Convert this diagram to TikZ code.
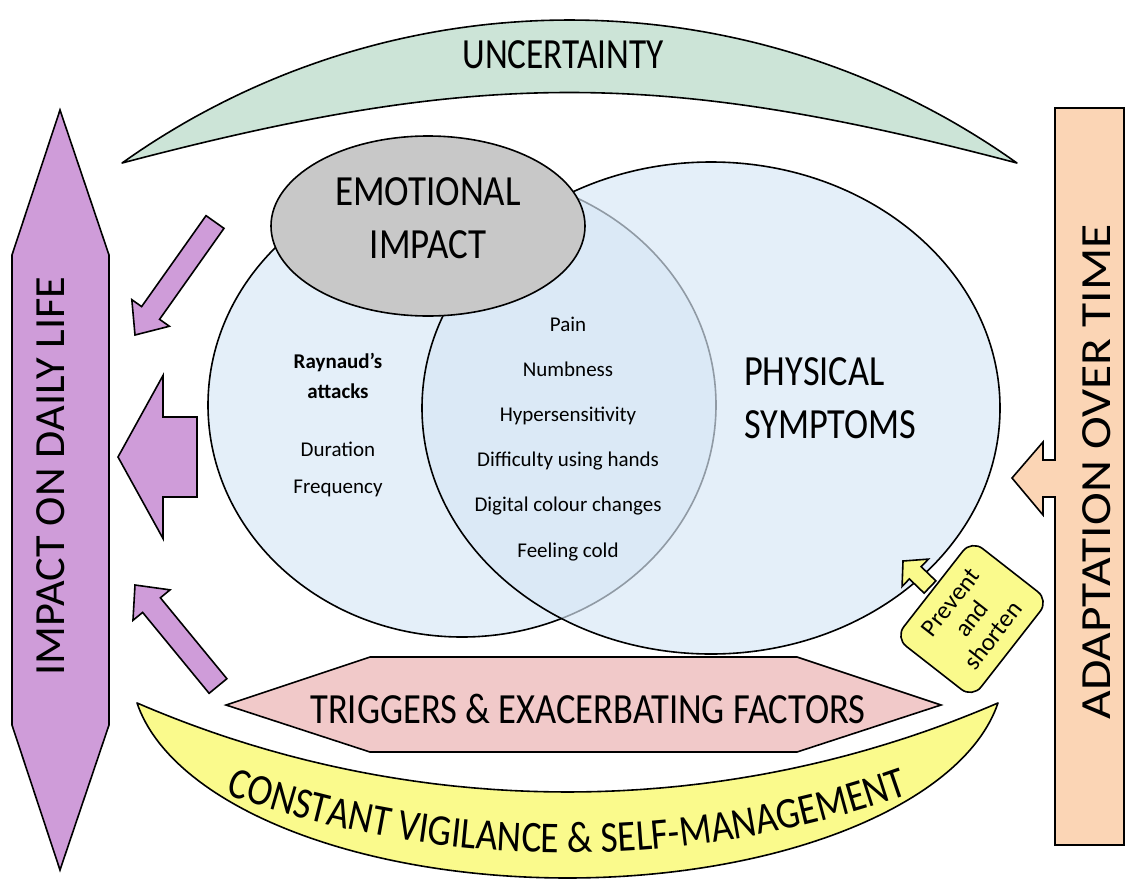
\documentclass[tikz,border=0pt]{standalone}
\usepackage{fontspec}
\setmainfont{Carlito}
\newfontfamily\arcfont[FakeStretch=0.85]{Carlito}
\usetikzlibrary{calc,shapes.geometric,decorations.text}

\definecolor{lilac}{RGB}{207,156,217}
\definecolor{mint}{RGB}{204,228,215}
\definecolor{paleblue}{RGB}{228,239,249}
\definecolor{skyblue}{RGB}{215,231,246}
\definecolor{peach}{RGB}{251,213,181}
\definecolor{rose}{RGB}{241,201,201}
\definecolor{lemon}{RGB}{250,250,140}
\definecolor{stone}{RGB}{200,200,200}

\newcommand\squeeze[2]{\scalebox{#1}[1]{#2}}
% tail, tip, shaft half width, head half width, head length, fill
\newcommand\blockarrow[6]{%
  \coordinate (neck) at ($(#2)!#5!(#1)$);
  \draw[outline,fill=#6] ($(#1)!#3!90:(#2)$) -- ($(neck)!#3!90:(#2)$) -- ($(neck)!#4!90:(#2)$) -- (#2)
    -- ($(neck)!#4!-90:(#2)$) -- ($(neck)!#3!-90:(#2)$) -- ($(#1)!#3!-90:(#2)$) -- cycle;}

\tikzset{
  outline/.style={draw=black, line width=1.6pt},
  head/.style={font=\fontsize{43}{50}\selectfont, inner sep=0pt},
  body/.style={font=\fontsize{21}{25}\selectfont, inner sep=0pt, anchor=base},
}

\begin{document}
\begin{tikzpicture}[x=1pt, y=-1pt]
  \useasboundingbox (0,0) rectangle (1126,881);

  \draw[outline, fill=mint, line join=round]
    plot[domain=-35.44:35.44, samples=90] ({569.5+771.7*sin(\x)},{791.7-771.7*cos(\x)})
    .. controls (660,69) and (479,69) .. cycle;
  \draw[outline, fill=lemon, line join=round]
    plot[domain=-80.9:80.9, samples=120] ({567.5+436*sin(\x)},{670+208*cos(\x)})
    -- plot[domain=23.36:-23.36, samples=90] ({567.5+1085.7*sin(\x)},{-293.7+1085.7*cos(\x)}) -- cycle;
  \node[head, anchor=base] (uncert) at (563,68) {\squeeze{0.82}{UNCERTAINTY}};
  \path[decorate, decoration={text along path, text align=center,
      text={|\arcfont\fontsize{44}{50}\selectfont|CONSTANT VIGILANCE {\&} SELF-MANAGEMENT}}]
    (190,781) .. controls (431.7,876.8) and (702.3,876.8) .. (944,781);

  \node[ellipse, outline, fill=paleblue, minimum width=508pt, minimum height=464pt] (attacks) at (462,405) {};
  \node[ellipse, outline, fill=skyblue, fill opacity=0.67, minimum width=578pt, minimum height=492pt] (physical) at (711,408) {};
  \node[ellipse, outline, fill=stone, minimum width=314pt, minimum height=180pt] (emotional) at (428,226) {};

  \node[head, anchor=base] (emo1) at (428,205) {\squeeze{0.86}{EMOTIONAL}};
  \node[head, anchor=base] (emo2) at (428,258) {\squeeze{0.86}{IMPACT}};
  \node[head, anchor=base west] (phys1) at (744,385) {\squeeze{0.845}{PHYSICAL}};
  \node[head, anchor=base west] (phys2) at (744,438) {\squeeze{0.845}{SYMPTOMS}};

  \node[body] (ray1) at (338,368) {\bfseries Raynaud’s};
  \node[body] (ray2) at (338,398) {\bfseries attacks};
  \node[body] (dur) at (338,456) {Duration};
  \node[body] (freq) at (338,493) {Frequency};
  \foreach \s [count=\i from 0] in {Pain, Numbness, Hypersensitivity, Difficulty using hands, Digital colour changes, Feeling cold}{%
    \node[body] (sym\i) at (568,331+45.2*\i) {\s};
  }

  \draw[outline, fill=lilac] (60,110) -- (109,255) -- (109,725) -- (60,870) -- (12,725) -- (12,255) -- cycle;
  \node[head, rotate=90] (daily) at (51,476) {\squeeze{1.03}{IMPACT ON DAILY LIFE}};

  \draw[outline, fill=peach] (1055,108) -- (1124,108) -- (1124,845) -- (1055,845) -- (1055,497) -- (1043,497)
    -- (1043,515) -- (1012,478) -- (1043,442) -- (1043,460) -- (1055,460) -- cycle;
  \node[head, rotate=90] (adapt) at (1097,472) {\squeeze{1.15}{ADAPTATION OVER TIME}};

  \draw[outline, fill=rose] (226,705) -- (370,657) -- (797,657) -- (941,705) -- (797,752) -- (370,752) -- cycle;
  \node[head, anchor=base] (trig) at (588,723) {\squeeze{0.85}{TRIGGERS \& EXACERBATING FACTORS}};

  \node[outline, fill=lemon, rounded corners=14pt, rotate=52, minimum width=124pt, minimum height=98pt,
    inner sep=2pt, align=center, font=\fontsize{25}{27}\selectfont] (prevent) at (972,619) {Prevent\\and\\shorten};

  \coordinate (uptail) at (215,222);
  \coordinate (uptip) at (135,335);
  \coordinate (midtail) at (197,457);
  \coordinate (midtip) at (118,457);
  \coordinate (lowtail) at (218,686);
  \coordinate (lowtip) at (135,585);
  \coordinate (prevtail) at (930,587);
  \coordinate (prevtip) at (903,561);
  \blockarrow{uptail}{uptip}{11pt}{23pt}{27pt}{lilac}
  \blockarrow{midtail}{midtip}{40pt}{81.5pt}{45pt}{lilac}
  \blockarrow{lowtail}{lowtip}{11.5pt}{24pt}{26pt}{lilac}
  \blockarrow{prevtail}{prevtip}{8.5pt}{19pt}{17pt}{lemon}
\end{tikzpicture}
\end{document}
